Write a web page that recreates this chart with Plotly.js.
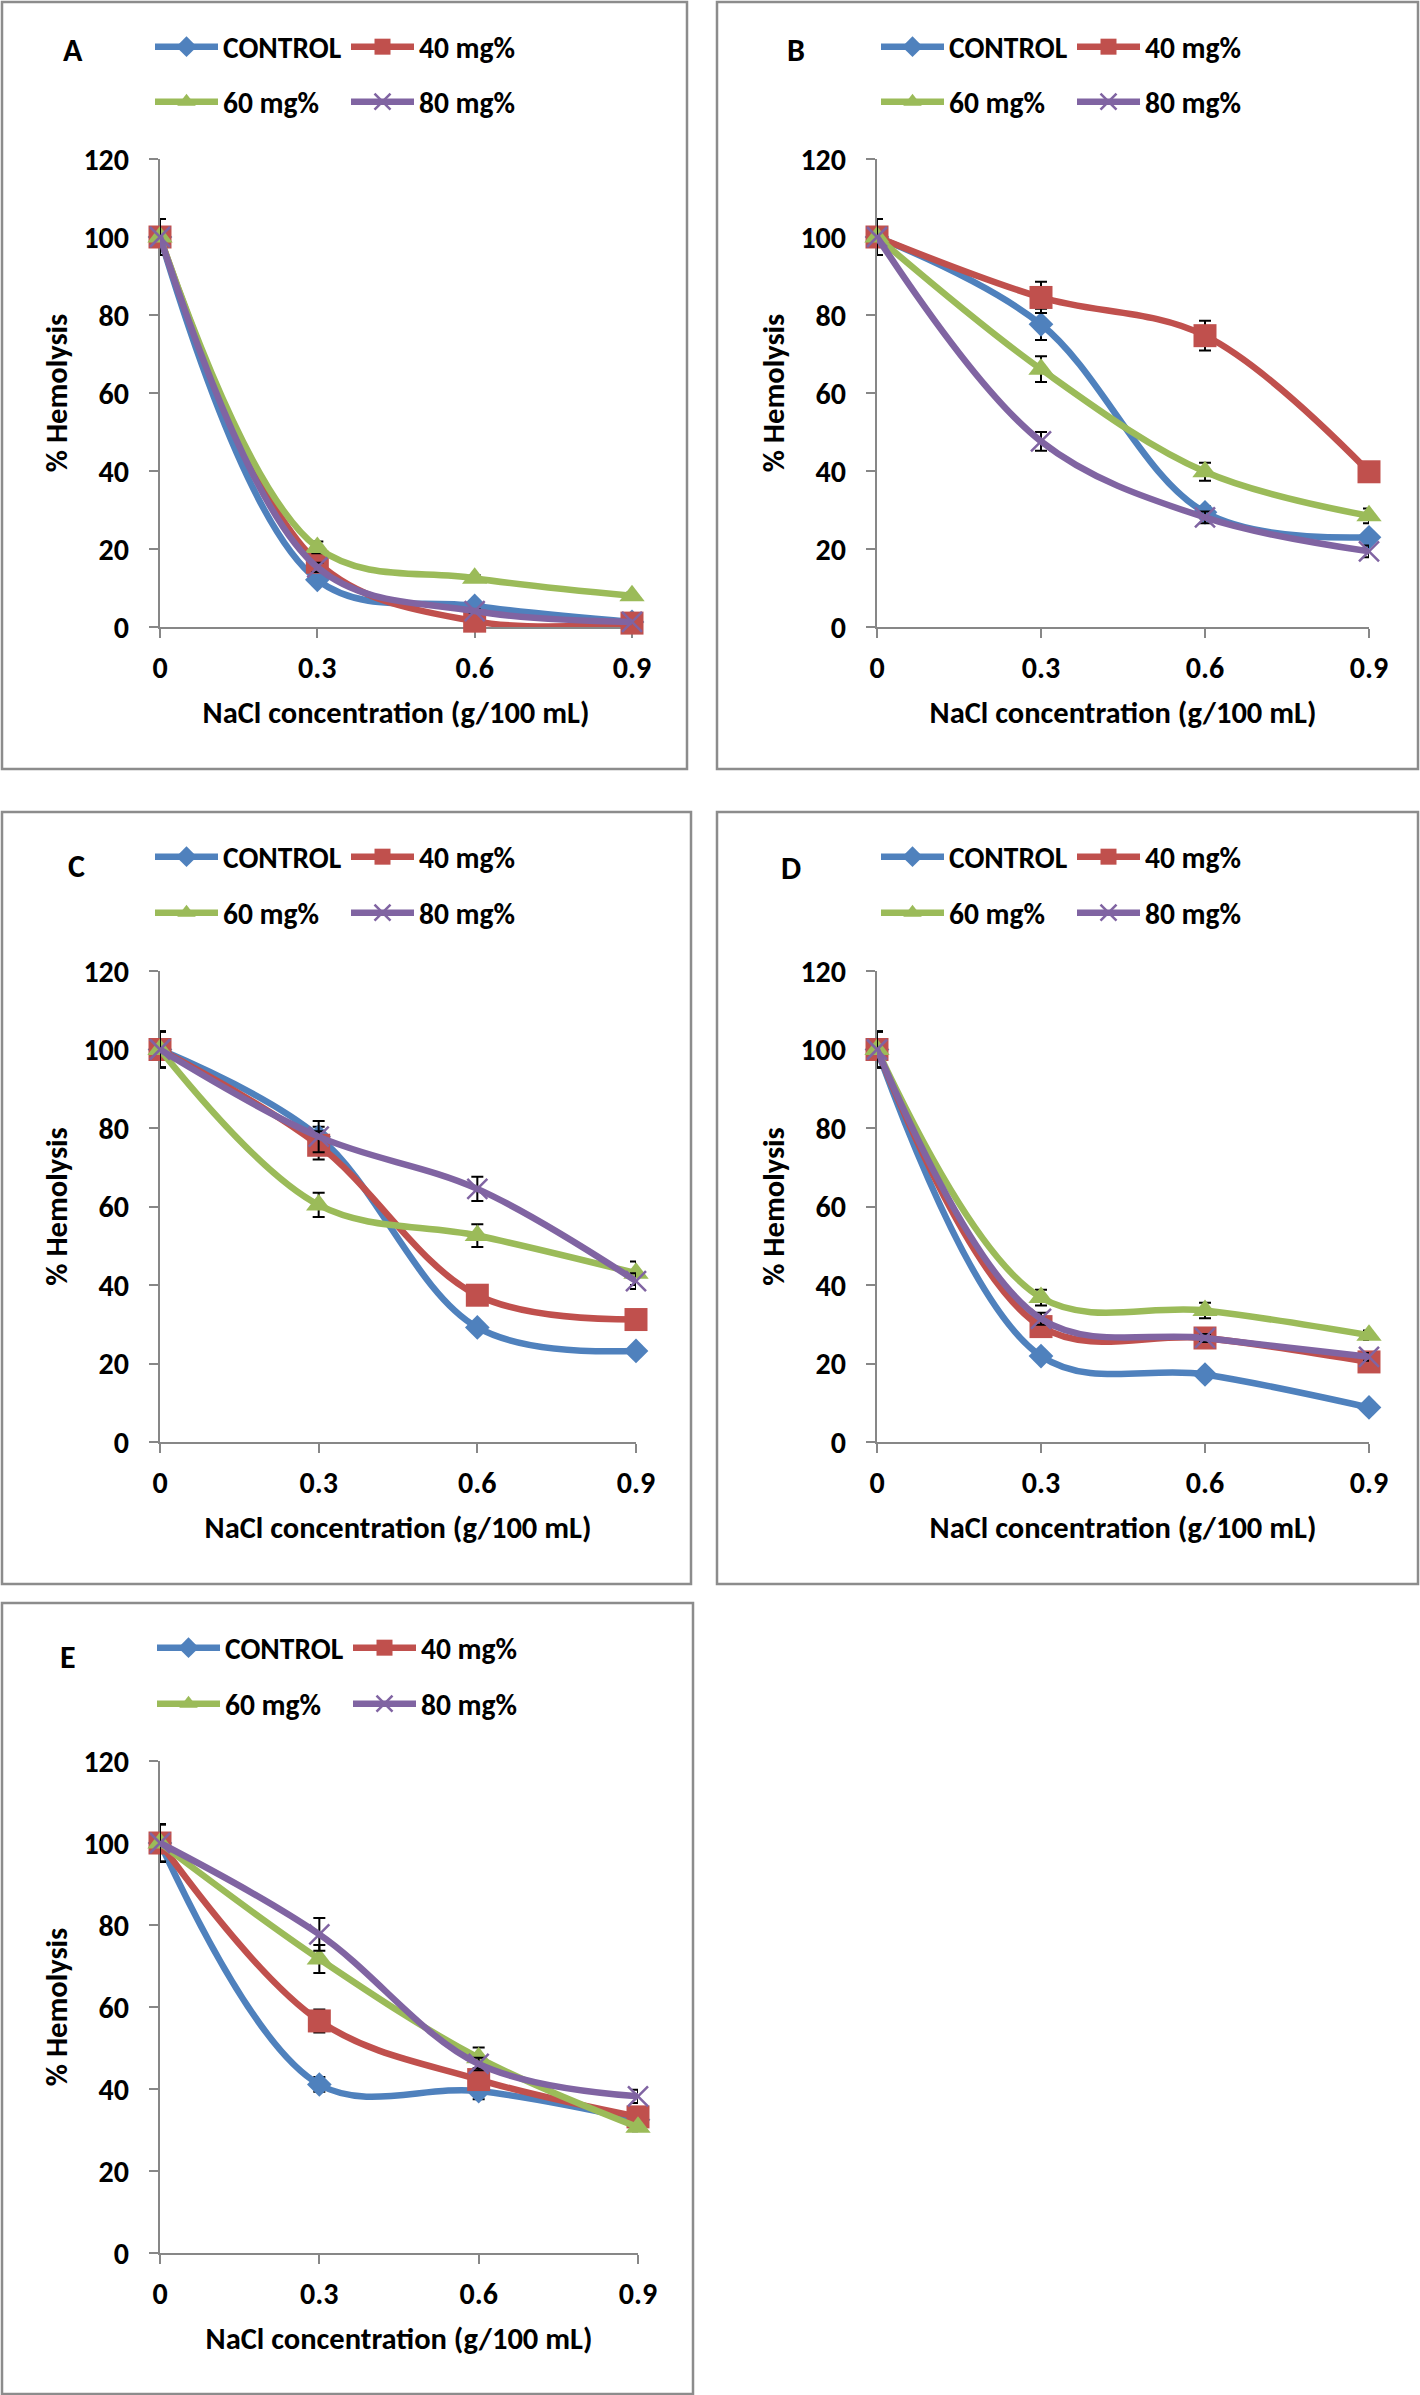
<!DOCTYPE html>
<html>
<head>
<meta charset="utf-8">
<script src="https://cdn.plot.ly/plotly-3.0.1.min.js"></script>
<style>
  html, body { margin: 0; padding: 0; background: #fff; }
  #chart { width: 1420px; height: 2395px; }
</style>
</head>
<body>
<div id="chart"></div>
<script>
// ---------------- DATA ----------------
const nacl = [0, 0.3, 0.6, 0.9];
const xTickText = ['0', '0.3', '0.6', '0.9'];
const yTickVals = [0, 20, 40, 60, 80, 100, 120];
const seriesNames = ['CONTROL', '40 mg%', '60 mg%', '80 mg%'];
const panelLabels = ['A', 'B', 'C', 'D', 'E'];
const xTitle = 'NaCl concentration (g/100 mL)';
const yTitle = '% Hemolysis';

// Panel A
const A_control = [100, 12.1, 5.4, 1.3];
const A_40 = [100, 16.6, 1.5, 1.0];
const A_60 = [100, 20.4, 12.5, 8.0];
const A_80 = [100, 15.3, 4.1, 1.3];
const A_control_err = [4.6, 1.2, 1.0, 0.5];
const A_40_err = [4.6, 1.5, 0.5, 0.5];
const A_60_err = [4.6, 1.5, 0.8, 0.8];
const A_80_err = [4.6, 1.2, 0.5, 0.5];

// Panel B
const B_control = [100, 77.6, 29.4, 23.0];
const B_40 = [100, 84.5, 74.7, 39.8];
const B_60 = [100, 66.1, 39.8, 28.5];
const B_80 = [100, 47.6, 28.1, 19.4];
const B_control_err = [4.6, 4.0, 1.5, 1.2];
const B_40_err = [4.6, 4.0, 3.8, 1.0];
const B_60_err = [4.6, 3.3, 2.3, 1.9];
const B_80_err = [4.6, 2.4, 1.5, 1.5];

// Panel C
const C_control = [100, 77.8, 29.2, 23.2];
const C_40 = [100, 75.6, 37.4, 31.2];
const C_60 = [100, 60.4, 52.6, 43.0];
const C_80 = [100, 77.8, 64.5, 41.0];
const C_control_err = [4.6, 2.5, 1.0, 1.0];
const C_40_err = [4.6, 3.6, 1.2, 1.0];
const C_60_err = [4.6, 3.1, 2.9, 3.0];
const C_80_err = [4.6, 4.0, 3.1, 2.0];

// Panel D
const D_control = [100, 21.9, 17.2, 8.8];
const D_40 = [100, 29.4, 26.5, 20.4];
const D_60 = [100, 36.8, 33.5, 27.2];
const D_80 = [100, 31.4, 26.5, 21.7];
const D_control_err = [4.6, 1.0, 1.0, 0.8];
const D_40_err = [4.6, 1.5, 1.0, 1.0];
const D_60_err = [4.6, 2.0, 2.0, 1.2];
const D_80_err = [4.6, 1.5, 1.0, 1.0];

// Panel E
const E_control = [100, 41.1, 39.5, 32.5];
const E_40 = [100, 56.6, 42.3, 33.2];
const E_60 = [100, 71.7, 47.6, 30.7];
const E_80 = [100, 77.7, 46.1, 38.2];
const E_control_err = [4.6, 1.8, 2.0, 1.0];
const E_40_err = [4.6, 2.8, 1.5, 1.0];
const E_60_err = [4.6, 3.4, 2.5, 1.0];
const E_80_err = [4.6, 4.0, 1.5, 1.6];

const panelValues = [
  [A_control, A_40, A_60, A_80],
  [B_control, B_40, B_60, B_80],
  [C_control, C_40, C_60, C_80],
  [D_control, D_40, D_60, D_80],
  [E_control, E_40, E_60, E_80]
];
const panelErrors = [
  [A_control_err, A_40_err, A_60_err, A_80_err],
  [B_control_err, B_40_err, B_60_err, B_80_err],
  [C_control_err, C_40_err, C_60_err, C_80_err],
  [D_control_err, D_40_err, D_60_err, D_80_err],
  [E_control_err, E_40_err, E_60_err, E_80_err]
];

// ---------------- LAYOUT / STYLE ----------------
const W = 1420, H = 2395;
const fx = p => p / W;
const fy = p => 1 - p / H;
const FONT = 'Calibri, Carlito, Lato, sans-serif';
const AXIS_COLOR = '#878787';
const TICK_SIZE = 30, TITLE_SIZE = 30.5, LEG_SIZE = 29.5, LETTER_SIZE = 32;

// plot: [left, right, top, bottom] px ; box: [left, right, top, bottom] px
const panelGeom = [
  {plot: [160, 632, 159, 627], box: [2, 687, 2, 769], label: [73, 50], legX: 150, rows: [47, 102]},
  {plot: [877, 1369, 159, 627], box: [717, 1418, 2, 769], label: [796, 50], legX: 876, rows: [47, 102]},
  {plot: [160, 636, 971, 1442], box: [2, 691, 812, 1584], label: [76, 866], legX: 150, rows: [857, 913]},
  {plot: [877, 1369, 971, 1442], box: [717, 1418, 812, 1584], label: [791, 868], legX: 876, rows: [857, 913]},
  {plot: [160, 638, 1761, 2253], box: [2, 693, 1603, 2394], label: [68, 1657], legX: 152, rows: [1648, 1704]}
];

const seriesStyle = [
  {color: '#4F81BD', symbol: 'diamond', size: 19, lw: 0},
  {color: '#C0504D', symbol: 'square', size: 23, lw: 0},
  {color: '#9BBB59', symbol: 'triangle-up', size: 22, lw: 0},
  {color: '#8064A2', symbol: 'x-thin', size: 20, lw: 2.5}
];

const traces = [];
const layout = {
  width: W, height: H,
  margin: {l: 0, r: 0, t: 0, b: 0},
  paper_bgcolor: '#ffffff',
  plot_bgcolor: 'rgba(0,0,0,0)',
  showlegend: true,
  font: {family: FONT, color: '#000'},
  annotations: [],
  shapes: []
};

panelGeom.forEach((g, i) => {
  const sfx = i === 0 ? '' : String(i + 1);
  const xa = 'xaxis' + sfx, ya = 'yaxis' + sfx;
  layout[xa] = {
    domain: [fx(g.plot[0]), fx(g.plot[1])],
    anchor: 'y' + sfx,
    range: [0, 0.9],
    tickvals: nacl,
    ticktext: xTickText,
    showline: true, linecolor: AXIS_COLOR, linewidth: 2,
    ticks: 'outside', ticklen: 9, tickwidth: 2, tickcolor: AXIS_COLOR,
    showgrid: false, zeroline: false,
    tickfont: {family: FONT, size: TICK_SIZE, color: '#000', weight: 700},
    ticklabelstandoff: 4,
    title: {text: xTitle, font: {family: FONT, size: TITLE_SIZE, color: '#000', weight: 700}, standoff: 17},
    layer: 'below traces',
    fixedrange: true
  };
  layout[ya] = {
    domain: [fy(g.plot[3]), fy(g.plot[2])],
    anchor: 'x' + sfx,
    range: [0, 120],
    tickvals: yTickVals,
    ticktext: yTickVals.map(String),
    showline: true, linecolor: AXIS_COLOR, linewidth: 2,
    ticks: 'outside', ticklen: 9, tickwidth: 2, tickcolor: AXIS_COLOR,
    showgrid: false, zeroline: false,
    tickfont: {family: FONT, size: TICK_SIZE, color: '#000', weight: 700},
    ticklabelstandoff: 14,
    title: {text: yTitle, font: {family: FONT, size: TITLE_SIZE, color: '#000', weight: 700}, standoff: 7},
    layer: 'below traces',
    fixedrange: true
  };

  // two one-row legends per panel
  g.rows.forEach((ry, r) => {
    const n = i * 2 + r + 1;
    const lid = n === 1 ? 'legend' : 'legend' + n;
    layout[lid] = {
      x: fx(g.legX), xanchor: 'left',
      y: fy(ry), yanchor: 'middle',
      orientation: 'h',
      itemwidth: 63,
      entrywidth: 118, entrywidthmode: 'pixels',
      bgcolor: 'rgba(0,0,0,0)',
      borderwidth: 0,
      font: {family: FONT, size: LEG_SIZE, color: '#000', weight: 700},
      traceorder: 'normal'
    };
  });

  panelValues[i].forEach((vals, j) => {
    const s = seriesStyle[j];
    const n = i * 2 + (j < 2 ? 0 : 1) + 1;
    traces.push({
      type: 'scatter', mode: 'lines+markers',
      x: nacl, y: vals,
      name: seriesNames[j],
      xaxis: 'x' + sfx, yaxis: 'y' + sfx,
      legend: n === 1 ? 'legend' : 'legend' + n,
      line: {color: s.color, width: 6.5, shape: 'spline', smoothing: 1},
      marker: {symbol: s.symbol, size: s.size, color: s.color,
               line: {color: s.color, width: s.lw}},
      error_y: {type: 'data', array: panelErrors[i][j], visible: true,
                color: '#000000', thickness: 2, width: 6},
      cliponaxis: false,
      hoverinfo: 'skip'
    });
  });

  layout.annotations.push({
    xref: 'paper', yref: 'paper',
    x: fx(g.label[0]), y: fy(g.label[1]),
    xanchor: 'center', yanchor: 'middle',
    text: panelLabels[i], showarrow: false,
    font: {family: FONT, size: LETTER_SIZE, color: '#000', weight: 700}
  });
  layout.shapes.push({
    type: 'rect', xref: 'paper', yref: 'paper', layer: 'below',
    x0: fx(g.box[0]), x1: fx(g.box[1]), y0: fy(g.box[3]), y1: fy(g.box[2]),
    line: {color: '#8c8c8c', width: 2.5}, fillcolor: 'rgba(0,0,0,0)'
  });
});

Plotly.newPlot('chart', traces, layout, {displayModeBar: false, staticPlot: true});
</script>
</body>
</html>
